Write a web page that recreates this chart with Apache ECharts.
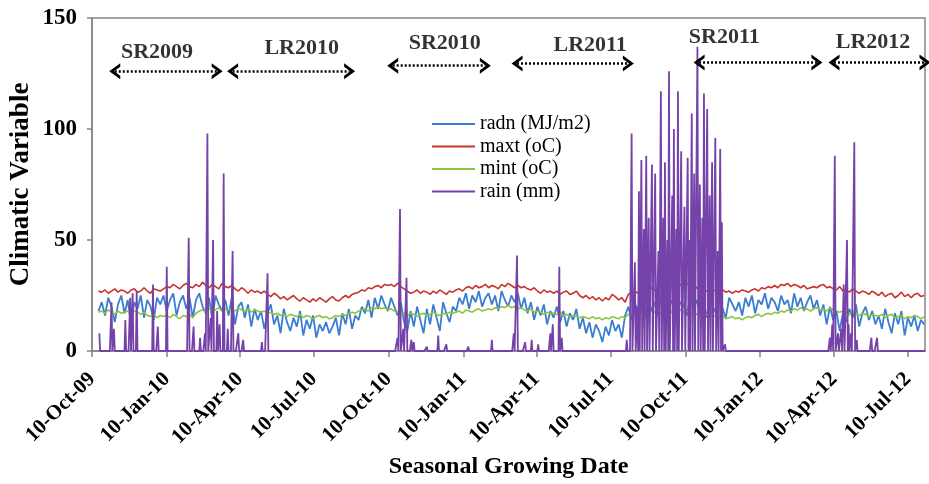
<!DOCTYPE html>
<html>
<head>
<meta charset="utf-8">
<script src="https://cdn.jsdelivr.net/npm/echarts@6/dist/echarts.min.js"></script>
<style>
html, body { margin: 0; padding: 0; background: #fff; }
#chart { width: 929px; height: 484px; }
</style>
</head>
<body>
<div id="chart"></div>
<script>
// date axis: one category per day
var firstDay = [2009, 9, 10];   // 10-Oct-09 (month is 0-based)
var lastDay = [2012, 6, 31];    // 31-Jul-12

// temperature / radiation, one value every 4 days
var sampleStart = 8;   // days after 10-Oct-09
var sampleStep = 4;

var radn = [
    18, 22, 16, 24, 20, 13, 21, 25, 17, 23,
    12, 22, 19, 25, 15, 23, 20, 14, 24, 21,
    25, 18, 23, 26, 16, 22, 25, 19, 24, 15,
    23, 26, 20, 17, 24, 14, 25, 21, 18, 23,
    16, 24, 12, 20, 22, 15, 21, 11, 19, 14,
    18, 10, 17, 21, 12, 16, 8, 19, 13, 9,
    15, 11, 18, 7, 14, 10, 16, 6, 12, 9,
    13, 8, 11, 15, 7, 17, 12, 19, 10, 16,
    14, 20, 17, 23, 15, 24, 19, 25, 21, 18,
    24, 20, 16, 22, 13, 9, 18, 11, 20, 14,
    8, 19, 12, 21, 15, 9, 22, 17, 13, 20,
    18, 24, 21, 26, 19, 25, 22, 27, 20, 24,
    26, 21, 25, 18, 27, 23, 20, 25, 22, 26,
    19, 24, 17, 22, 14, 20, 16, 21, 12, 18,
    15, 20, 13, 18, 11, 17, 14, 19, 10, 15,
    8, 13, 6, 12, 9, 4, 11, 7, 14, 9,
    12, 6, 16, 20, 14, 22, 17, 21, 15, 23,
    18, 22, 16, 24, 19, 14, 23, 20, 17, 22,
    21, 16, 24, 19, 23, 17, 22, 15, 25, 20,
    17, 23, 19, 15, 24, 21, 18, 22, 16, 24,
    20, 25, 17, 23, 21, 26, 19, 24, 22, 18,
    25, 21, 23, 17, 26, 20, 24, 18, 22, 25,
    19, 23, 16, 21, 12, 20, 14, 18, 9, 17,
    13, 19, 15, 21, 11, 17, 20, 14, 18, 12,
    16, 10, 19, 13, 8, 17, 12, 18, 7, 15,
    11, 16, 9, 14, 12
];

var maxt = [
    27, 26.5, 27.5, 26, 27, 28, 26.5, 27.5, 27, 26,
    27.5, 28, 26.5, 27, 28.5, 27, 26, 28, 27.5, 27,
    28, 29, 28.5, 30, 29, 28, 29.5, 30.5, 29, 28.5,
    30, 29, 31, 29.5, 28.5, 30, 29, 28, 30.5, 29,
    28.5, 29.5, 28, 27, 28.5, 27.5, 26, 27.5, 26.5, 27,
    26, 27, 25.5, 24.5, 26, 25, 23.5, 24.5, 23, 24,
    25, 23.5, 22.5, 24, 23, 22, 23.5, 22.5, 24, 23,
    22, 23.5, 24.5, 23, 22.5, 24, 25, 24, 25.5, 26,
    26.5, 27.5, 27, 28.5, 28, 29, 29.5, 28.5, 30, 29.5,
    30, 29, 30.5, 29, 28, 27, 26, 26.5, 27.5, 26,
    27, 26.5, 25.5, 27, 26, 27.5, 26.5, 25.5, 27, 26.5,
    27.5, 28, 27, 28.5, 29, 28, 29.5, 28.5, 29, 30,
    28.5, 29.5, 29, 28, 30, 29, 30.5, 29.5, 28.5, 29.5,
    28.5, 29, 28, 27.5, 28.5, 27, 26, 27.5, 26.5, 27,
    26, 27, 25.5, 26.5, 27, 25.5, 26, 27, 25, 24,
    25, 23.5, 24.5, 23, 24, 22.5, 24, 23, 25.5, 24.5,
    23, 24, 22, 25.5, 26.5, 27, 26, 27.5, 28, 27,
    28.5, 27.5, 28, 29, 28, 29.5, 28.5, 29, 28, 30,
    29, 30.5, 29.5, 30, 28.5, 27.5, 28, 27, 26.5, 27.5,
    27, 26, 27.5, 26.5, 27, 26, 27, 26.5, 27.5, 27,
    26.5, 27.5, 28, 27, 28.5, 28, 29, 28.5, 29.5, 28.5,
    30, 29.5, 30.5, 29, 30, 29.5, 28.5, 29.5, 28, 28.5,
    29, 28.5, 29.5, 30, 28.5, 29, 28, 27.5, 29, 27,
    27.5, 26.5, 28, 27, 26, 27, 26.5, 25.5, 27, 26,
    25, 26.5, 24.5, 25.5, 26, 24, 25, 26.5, 24.5, 25.5,
    24, 25.5, 26, 24.5, 25
];

var mint = [
    17.5, 18, 17, 18.5, 17.5, 16.5, 18, 17, 17.5, 18,
    17, 18, 17.5, 16.5, 17.5, 16, 15.5, 16.5, 15, 16,
    15.5, 16, 15, 16.5, 15.5, 14.5, 16, 15.5, 16.5, 15,
    17, 18, 18.5, 17.5, 19, 18, 18.5, 19.5, 18, 19,
    18.5, 19, 18, 19.5, 18.5, 18, 19, 17.5, 18.5, 18,
    17.5, 18, 17, 17.5, 16.5, 17, 16, 16.5, 15.5, 16.5,
    16, 15.5, 16.5, 15, 16, 15.5, 14.5, 15.5, 16, 15,
    15.5, 14.5, 15, 16, 15.5, 16.5, 16, 17, 17.5, 17,
    18, 18.5, 19, 18, 19.5, 19, 20, 19, 19.5, 18.5,
    19, 18, 17.5, 16.5, 17, 16, 17, 16.5, 15.5, 16.5,
    17, 16, 16.5, 17.5, 16.5, 16, 17, 16.5, 17.5, 17,
    17.5, 18, 17, 18.5, 18, 17.5, 18.5, 19, 18, 18.5,
    19, 18.5, 19.5, 19, 20, 19.5, 20.5, 19.5, 20, 19,
    19.5, 18.5, 18, 19, 17.5, 18, 17.5, 16.5, 17.5, 17,
    17, 16.5, 17.5, 16, 16.5, 15.5, 16, 15.5, 15, 15.5,
    15, 14.5, 15.5, 14.5, 15, 14, 15, 14.5, 15.5, 15,
    14.5, 15.5, 15, 16.5, 17, 17.5, 16.5, 17.5, 18, 17,
    18, 17.5, 18.5, 17, 18, 18.5, 17.5, 18, 17, 18.5,
    17.5, 18, 17, 17.5, 16.5, 17, 16, 16.5, 15.5, 16,
    15.5, 15, 16, 14.5, 15, 15.5, 14.5, 15, 14, 15,
    15.5, 15, 16, 16.5, 15.5, 16.5, 17, 16.5, 17.5, 17,
    18, 17.5, 18.5, 18, 19, 18.5, 19.5, 18.5, 19, 18,
    19, 19.5, 18.5, 19, 18, 19.5, 18.5, 18, 17.5, 18,
    17.5, 16.5, 17.5, 17, 16, 17, 16.5, 15.5, 16.5, 16,
    15.5, 16.5, 15, 16, 16.5, 15, 15.5, 16, 14.5, 15.5,
    15, 16, 15.5, 14.5, 15.5
];

// rain: zero except on these days (days after 10-Oct-09), mm
var rainFirstDay = 9;
var rainDays = [
    9, 24, 27, 41, 47, 50, 55, 75, 81, 92, 119, 125, 133, 139, 142, 146, 149, 154, 157, 162, 167, 173, 180, 186, 209, 216,
    376, 379, 383, 387, 393, 396, 412, 426, 436, 463, 492, 519, 523, 533, 541, 549, 564, 567, 575, 578,
    658, 664, 668, 671, 673, 676, 679, 682, 685, 689, 693, 697, 700, 703, 705, 708, 710, 714, 716, 719,
    721, 725, 729, 733, 735, 738, 741, 745, 748, 751, 753, 757, 760, 763, 767, 770, 773, 775, 779,
    908, 911, 914, 918, 922, 925, 929, 931, 934, 938, 941, 959, 966
];
var rainMm = [
    8, 22, 10, 14, 24, 26, 27, 30, 11, 38, 51, 11, 6, 8, 98, 15, 50, 18, 12, 80, 10, 45, 8, 5, 4, 35,
    6, 64, 10, 33, 5, 4, 2, 7, 3, 2, 5, 8, 43, 4, 5, 3, 8, 12, 38, 6,
    5, 98, 40, 20, 72, 86, 55, 88, 60, 84, 80, 45, 117, 60, 85, 50, 126, 70, 100, 55,
    117, 90, 65, 87, 50, 107, 80, 137, 75, 60, 116, 109, 70, 85, 96, 45, 91, 58, 3,
    6, 12, 88, 8, 10, 30, 50, 12, 8, 94, 5, 6, 6
];

// season annotations
var seasonNames = ['SR2009', 'LR2010', 'SR2010', 'LR2011', 'SR2011', 'LR2012'];
var seasonFrom = ['2009-11-07', '2010-04-01', '2010-10-15', '2011-03-17', '2011-10-27', '2012-04-10'];
var seasonTo = ['2010-03-13', '2010-08-23', '2011-02-06', '2011-08-01', '2012-03-20', '2012-07-31'];
var seasonArrowY = [126, 126, 128.5, 129.5, 130, 130];
var seasonLabelAt = ['2009-12-29', '2010-06-25', '2010-12-18', '2011-06-15', '2011-11-27', '2012-05-28'];
var seasonLabelY = [134.5, 136.5, 138.5, 137.5, 141.5, 139];

var monthNames = ['Jan', 'Feb', 'Mar', 'Apr', 'May', 'Jun', 'Jul', 'Aug', 'Sep', 'Oct', 'Nov', 'Dec'];
var seriesColors = ['#3b7dd0', '#c8342c', '#8cc43e', '#7442a8'];
var serif = 'Liberation Serif';

var dayKeys = []
var dayLabels = []
var dayIsTick = []
var t0 = Date.UTC(firstDay[0], firstDay[1], firstDay[2])
var t1 = Date.UTC(lastDay[0], lastDay[1], lastDay[2])
for (var t = t0; t <= t1; t += 86400000) {
    var dt = new Date(t)
    dayKeys.push(dt.toISOString().slice(0, 10))
    dayLabels.push(dt.getUTCDate() + '-' + monthNames[dt.getUTCMonth()] + '-' + String(dt.getUTCFullYear()).slice(2))
    dayIsTick.push(dt.getUTCDate() === 10 && dt.getUTCMonth() % 3 === 0)
}
function dayIndex(key) {
    return dayKeys.indexOf(key)
}

function sampled(values) {
    return values.map(function (v, i) { return [sampleStart + i * sampleStep, v] })
}

var rain = []
for (var d = rainFirstDay; d < dayKeys.length; d++) {
    var k = rainDays.indexOf(d)
    rain.push([d, k >= 0 ? rainMm[k] : 0])
}

var arrows = []
var seasonLabels = []
for (var s = 0; s < seasonNames.length; s++) {
    arrows.push([
        { coord: [dayIndex(seasonFrom[s]), seasonArrowY[s]] },
        { coord: [dayIndex(seasonTo[s]), seasonArrowY[s]] }
    ])
    seasonLabels.push([dayIndex(seasonLabelAt[s]), seasonLabelY[s], seasonNames[s]])
}

// open chevron, pointing up before markLine rotates it
var chevron = 'path://M0,10 L5,0 L10,10 L7.8,10 L5,4.4 L2.2,10 Z'

function lineSeries(name, data, color, width) {
    return {
        name: name,
        type: 'line',
        data: data,
        symbol: 'none',
        showSymbol: false,
        color: color,
        lineStyle: { color: color, width: width },
        emphasis: { disabled: true }
    }
}

var myChart = echarts.init(document.getElementById('chart'))

var option = {
    animation: false,
    backgroundColor: '#fff',
    grid: {
        left: 92,
        right: 4,
        top: 18,
        bottom: 133,
        outerBoundsMode: 'none',
        show: true,
        borderColor: '#868686',
        borderWidth: 1.5
    },
    legend: {
        data: ['radn (MJ/m2)', 'maxt (oC)', 'mint (oC)', 'rain (mm)'],
        orient: 'vertical',
        left: 432,
        top: 114,
        padding: 0,
        icon: 'rect',
        itemWidth: 43,
        itemHeight: 2,
        itemGap: 2.5,
        textStyle: { fontFamily: serif, fontSize: 20, color: '#000', lineHeight: 20 }
    },
    xAxis: {
        type: 'category',
        data: dayKeys,
        boundaryGap: false,
        name: 'Seasonal Growing Date',
        nameLocation: 'middle',
        nameGap: 104,
        nameMoveOverlap: false,
        nameTextStyle: { fontFamily: serif, fontWeight: 'bold', fontSize: 24, color: '#000' },
        axisLine: { lineStyle: { color: '#868686', width: 1.5 } },
        axisTick: {
            length: 6,
            interval: function (index) { return dayIsTick[index] },
            lineStyle: { color: '#868686', width: 1.5 }
        },
        axisLabel: {
            rotate: 45,
            margin: 25,
            interval: function (index) { return dayIsTick[index] },
            formatter: function (value, index) { return dayLabels[index] },
            fontFamily: serif,
            fontWeight: 'bold',
            fontSize: 21,
            color: '#000'
        },
        splitLine: { show: false }
    },
    yAxis: {
        type: 'value',
        min: 0,
        max: 150,
        interval: 50,
        name: 'Climatic Variable',
        nameLocation: 'middle',
        nameGap: 57,
        nameMoveOverlap: false,
        nameTextStyle: { fontFamily: serif, fontWeight: 'bold', fontSize: 27, color: '#000' },
        axisLine: { show: true, lineStyle: { color: '#868686', width: 1.5 } },
        axisTick: { show: true, length: 5, lineStyle: { color: '#868686', width: 1.5 } },
        axisLabel: { fontFamily: serif, fontWeight: 'bold', fontSize: 23, color: '#000', margin: 15 },
        splitLine: { show: false }
    },
    series: [
        lineSeries('radn (MJ/m2)', sampled(radn), seriesColors[0], 1.8),
        lineSeries('maxt (oC)', sampled(maxt), seriesColors[1], 1.6),
        lineSeries('mint (oC)', sampled(mint), seriesColors[2], 1.6),
        lineSeries('rain (mm)', rain, seriesColors[3], 1.8),
        {
            name: 'seasons',
            type: 'scatter',
            data: seasonLabels,
            symbolSize: 0,
            silent: true,
            label: {
                show: true,
                position: 'inside',
                formatter: function (p) { return p.value[2] },
                fontFamily: serif,
                fontWeight: 'bold',
                fontSize: 22,
                color: '#000'
            },
            markLine: {
                silent: true,
                symbol: [chevron, chevron],
                symbolSize: [16, 11],
                label: { show: false },
                lineStyle: { color: '#000', width: 2.5, type: [2, 2] },
                emphasis: { disabled: true },
                data: arrows
            }
        }
    ]
}

myChart.setOption(option)
</script>
</body>
</html>
